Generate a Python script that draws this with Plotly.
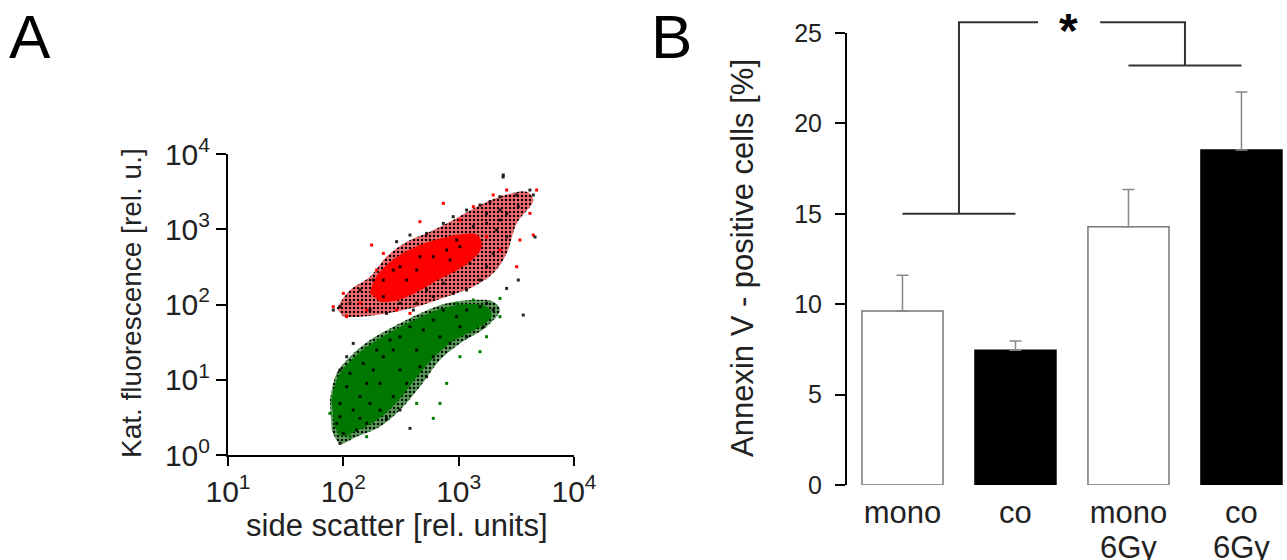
import numpy as np
import plotly.graph_objects as go

# ---------------- Panel A data (log10 units) ----------------
# speckled outer regions of the two populations (outline, log10 side scatter / log10 fluorescence)
red_halo_lx = [1.942, 2.058, 2.231, 2.375, 2.549, 2.751, 2.953, 3.156, 3.358, 3.589, 3.647, 3.503, 3.416, 3.300,
               3.127, 2.896, 2.636, 2.375, 2.144, 2.000]
red_halo_ly = [1.949, 2.192, 2.369, 2.635, 2.835, 2.967, 3.122, 3.300, 3.433, 3.499, 3.388, 3.078, 2.679, 2.414,
               2.237, 2.104, 1.971, 1.882, 1.838, 1.838]
green_halo_lx = [1.884, 1.942, 2.058, 2.231, 2.433, 2.664, 2.896, 3.127, 3.300, 3.358, 3.242, 3.011, 2.838, 2.664,
                 2.491, 2.318, 2.115, 1.971, 1.899]
green_halo_ly = [0.730, 1.085, 1.306, 1.528, 1.705, 1.882, 2.015, 2.060, 2.037, 1.926, 1.705, 1.483, 1.262, 0.907,
                 0.597, 0.376, 0.243, 0.154, 0.332]

# dense cores
red_core_lx = [2.231, 2.289, 2.433, 2.607, 2.809, 3.011, 3.156, 3.199, 3.127, 2.982, 2.809, 2.636, 2.462, 2.318]
red_core_ly = [2.148, 2.369, 2.591, 2.746, 2.857, 2.923, 2.923, 2.790, 2.613, 2.458, 2.325, 2.170, 2.060, 2.037]
green_core_lx = [1.90, 1.96, 2.08, 2.25, 2.45, 2.66, 2.88, 3.10, 3.25, 3.28, 3.15, 2.95, 2.80, 2.64, 2.47, 2.30, 2.12, 1.98, 1.92]
green_core_ly = [0.70, 1.05, 1.27, 1.48, 1.66, 1.82, 1.95, 2.00, 1.96, 1.84, 1.68, 1.52, 1.33, 1.05, 0.72, 0.48, 0.33, 0.26, 0.42]

# scattered single events
black_lx = [2.462, 2.578, 2.722, 2.867, 2.953, 3.069, 3.185, 3.271, 3.358, 3.503, 3.647, 3.618, 3.387, 3.242,
            3.358, 3.416, 3.300, 3.242, 3.185, 3.069, 2.953, 2.867, 2.722, 2.636, 2.491, 2.347, 2.260, 2.144,
            2.058, 1.971, 1.913, 2.231, 2.375, 2.607, 2.780, 2.347, 2.433, 2.549, 2.636, 2.925, 3.011, 2.780,
            2.664, 2.491, 3.127, 2.982, 2.896, 3.242, 3.358, 3.517, 3.416, 3.329, 3.098, 3.517, 3.416, 3.560,
            2.029, 1.971, 1.942, 2.000, 2.086, 2.144, 2.202, 2.260, 2.347, 2.433, 2.491, 2.578, 2.693, 2.780,
            2.867, 2.982, 3.069, 3.185, 3.242, 3.300, 3.214, 3.069, 2.925, 2.780, 2.664, 2.549, 2.433, 2.318,
            2.202, 2.115, 1.971, 2.058, 2.173, 2.289, 2.404, 2.029, 2.086, 1.971, 2.491, 2.578, 2.375, 2.231,
            2.318, 2.491, 2.636, 2.838, 3.011, 2.722, 1.971, 2.144, 3.385, 3.662]
black_ly = [2.835, 2.923, 2.945, 3.078, 3.167, 3.255, 3.322, 3.366, 3.433, 3.455, 3.455, 3.521, 3.721, 3.211,
            3.122, 2.901, 2.679, 2.502, 2.325, 2.192, 2.148, 2.281, 2.192, 2.015, 2.015, 2.104, 2.325, 2.192,
            2.015, 1.971, 1.926, 1.926, 1.882, 1.926, 2.104, 2.325, 2.458, 2.325, 2.458, 2.591, 2.768, 2.635,
            2.635, 2.502, 3.034, 2.857, 2.724, 3.078, 3.255, 3.300, 3.211, 2.990, 2.547, 2.325, 2.214, 1.860,
            0.907, 0.686, 0.420, 0.287, 0.597, 0.775, 0.952, 1.129, 1.306, 1.395, 1.572, 1.705, 1.661, 1.793,
            1.926, 1.838, 1.926, 1.971, 2.015, 1.926, 1.705, 1.572, 1.483, 1.306, 1.173, 0.952, 0.775, 0.597,
            0.420, 0.332, 0.154, 1.085, 1.218, 1.395, 1.528, 1.306, 1.483, 1.129, 0.597, 0.354, 0.487, 0.686,
            0.952, 1.129, 1.395, 1.572, 1.705, 1.040, 0.509, 0.487, 3.694, 2.897]

red_lx = [2.867, 2.664, 2.245, 2.029, 1.913, 2.000, 2.202, 2.144, 3.416, 3.676, 3.647, 3.618, 3.531, 3.300,
          3.127, 3.503, 2.462, 2.578, 2.289, 2.347, 3.358, 3.242, 3.011]
red_ly = [3.344, 3.100, 2.790, 1.838, 1.971, 2.148, 1.926, 2.015, 3.521, 3.521, 2.923, 3.211, 2.857, 3.455,
          3.300, 2.502, 1.926, 1.882, 2.458, 2.679, 2.724, 2.901, 3.122]

green_lx = [1.884, 1.913, 2.780, 2.896, 3.011, 3.185, 3.358, 3.358, 3.127, 2.982, 2.636, 2.202, 2.058, 2.838, 3.242]
green_ly = [0.553, 0.775, 0.487, 0.952, 1.306, 1.373, 1.838, 2.081, 2.060, 2.015, 0.686, 0.243, 0.243, 0.686, 1.572]

x_tick_vals = [10, 100, 1000, 10000]
x_tick_text = ["10<sup>1</sup>", "10<sup>2</sup>", "10<sup>3</sup>", "10<sup>4</sup>"]
y_tick_vals = [1, 10, 100, 1000, 10000]
y_tick_text = ["10<sup>0</sup>", "10<sup>1</sup>", "10<sup>2</sup>", "10<sup>3</sup>", "10<sup>4</sup>"]

# ---------------- Panel B data ----------------
group_pos = [0, 1, 2, 3]
group_line1 = ["mono", "co", "mono", "co"]
group_line2 = ["", "", "6Gy", "6Gy"]
annexin = [9.62, 7.45, 14.29, 18.53]
annexin_err = [1.98, 0.51, 2.06, 3.21]
bar_fill = ["white", "black", "white", "black"]
bar_edge = ["#777777", "#000000", "#777777", "#000000"]
b_ticks = [0, 5, 10, 15, 20, 25]

# significance bracket (group position, % value)
sig_x = [0, 1, None, 0.5, 0.5, 1.2, None, 1.75, 2.5, 2.5, None, 2, 3]
sig_y = [15, 15, None, 15, 25.6, 25.6, None, 25.6, 25.6, 23.2, None, 23.2, 23.2]

FONT = "Liberation Sans, Arial, sans-serif"
TXT = "#222222"
RED = "#ff0000"
GREEN = "#007800"


def p10(v):
    return (10 ** np.array(v, dtype=float)).tolist()


fig = go.Figure()

for hx, hy, col in [(red_halo_lx, red_halo_ly, "rgba(240,30,30,0.65)"),
                    (green_halo_lx, green_halo_ly, "rgba(0,110,0,0.65)")]:
    fig.add_trace(go.Scatter(x=p10(hx), y=p10(hy), mode="lines", fill="toself",
                             fillcolor=col, line=dict(width=0, shape="spline"),
                             fillpattern=dict(shape=".", fgcolor="black", bgcolor=col, size=4, solidity=0.3),
                             hoverinfo="skip", showlegend=False, xaxis="x", yaxis="y"))

fig.add_trace(go.Scatter(x=p10(red_core_lx), y=p10(red_core_ly), mode="lines", fill="toself",
                         fillcolor=RED, line=dict(color=RED, width=1, shape="spline"),
                         hoverinfo="skip", showlegend=False, xaxis="x", yaxis="y"))
fig.add_trace(go.Scatter(x=p10(green_core_lx), y=p10(green_core_ly), mode="lines", fill="toself",
                         fillcolor=GREEN, line=dict(color=GREEN, width=1, shape="spline"),
                         hoverinfo="skip", showlegend=False, xaxis="x", yaxis="y"))
fig.add_trace(go.Scatter(x=p10(red_lx), y=p10(red_ly), mode="markers",
                         marker=dict(color=RED, size=3, symbol="square"),
                         showlegend=False, xaxis="x", yaxis="y"))
fig.add_trace(go.Scatter(x=p10(green_lx), y=p10(green_ly), mode="markers",
                         marker=dict(color=GREEN, size=3, symbol="square"),
                         showlegend=False, xaxis="x", yaxis="y"))
fig.add_trace(go.Scatter(x=p10(black_lx), y=p10(black_ly), mode="markers",
                         marker=dict(color="#000000", size=3, symbol="square", opacity=0.85),
                         showlegend=False, xaxis="x", yaxis="y"))

fig.add_trace(go.Bar(x=group_pos, y=annexin, width=[0.717] * 4,
                     marker=dict(color=bar_fill, line=dict(color=bar_edge, width=1.5)),
                     error_y=dict(type="data", symmetric=False, array=annexin_err,
                                  arrayminus=[0] * 4, color="#888888", thickness=1.5, width=6),
                     showlegend=False, xaxis="x2", yaxis="y2"))

fig.add_trace(go.Scatter(x=sig_x, y=sig_y, mode="lines", line=dict(color="#333333", width=2),
                         showlegend=False, hoverinfo="skip", xaxis="x3", yaxis="y3"))

axis_common = dict(showgrid=False, zeroline=False, automargin=False,
                   tickfont=dict(family=FONT, size=30, color=TXT))

fig.update_layout(
    template="none",
    font=dict(family=FONT, color=TXT),
    width=1287, height=560, margin=dict(l=0, r=0, t=0, b=0, pad=0), autosize=False,
    paper_bgcolor="white", plot_bgcolor="rgba(0,0,0,0)", showlegend=False,
    xaxis=dict(type="log", range=[1, 4], domain=[0.17716, 0.44600], anchor="y",
               showline=True, linecolor="black", linewidth=2, ticks="outside", ticklen=9,
               tickwidth=2, tickcolor="black", tickvals=x_tick_vals, ticktext=x_tick_text, **axis_common),
    yaxis=dict(type="log", range=[0, 4], domain=[0.1875, 0.725], anchor="x",
               showline=True, linecolor="black", linewidth=2, ticks="outside", ticklen=10,
               tickwidth=2, tickcolor="black", tickvals=y_tick_vals, ticktext=y_tick_text, **axis_common),
    xaxis2=dict(range=[-0.491, 3.403], domain=[0.65812, 1.0], anchor="y2", showline=False,
                ticks="", tickvals=group_pos, ticktext=group_line1, ticklabelstandoff=6, automargin=False,
                showgrid=False, zeroline=False, tickfont=dict(family=FONT, size=31, color=TXT)),
    yaxis2=dict(range=[0, 25], domain=[0.13393, 0.94107], anchor="x2", showline=True,
                linecolor="black", linewidth=2, ticks="outside", ticklen=10, tickwidth=2,
                tickcolor="black", tickvals=b_ticks, ticklabelstandoff=8, automargin=False,
                showgrid=False, zeroline=False, tickfont=dict(family=FONT, size=25, color=TXT)),
    xaxis3=dict(range=[-0.491, 3.403], domain=[0.65812, 1.0], anchor="y3", visible=False, automargin=False),
    yaxis3=dict(range=[0, 26], domain=[0.13393, 0.97339], anchor="x3", visible=False, automargin=False),
)

ann = [
    dict(text="A", x=30 / 1287, y=1 - 36 / 560, font=dict(family=FONT, size=62, color="black")),
    dict(text="B", x=671 / 1287, y=1 - 36 / 560, font=dict(family=FONT, size=62, color="black")),
    dict(text="side scatter [rel. units]", x=397 / 1287, y=1 - 525 / 560,
         font=dict(family=FONT, size=31, color=TXT)),
    dict(text="Kat. fluorescence [rel. u.]", x=131 / 1287, y=1 - 303 / 560, textangle=-90,
         font=dict(family=FONT, size=28, color=TXT)),
    dict(text="Annexin V - positive cells [%]", x=743 / 1287, y=1 - 258 / 560, textangle=-90,
         font=dict(family=FONT, size=31, color=TXT)),
]
for a in ann:
    a.update(xref="paper", yref="paper", showarrow=False, xanchor="center", yanchor="middle")
    fig.add_annotation(**a)

# second line of the group labels
for gx, t in zip(group_pos, group_line2):
    if t:
        fig.add_annotation(text=t, x=gx, y=1 - 547 / 560, xref="x2", yref="paper", showarrow=False,
                           xanchor="center", yanchor="middle", font=dict(family=FONT, size=31, color=TXT))

fig.add_annotation(text="<b>*</b>", x=1.47, y=25.6, xref="x3", yref="y3", showarrow=False,
                   xanchor="center", yanchor="middle", yshift=-8,
                   font=dict(family=FONT, size=48, color="black"))

fig.write_html("out.html", config={"displayModeBar": False, "staticPlot": True},
               post_script="document.body.style.margin='0px';document.body.style.overflow='hidden';")
